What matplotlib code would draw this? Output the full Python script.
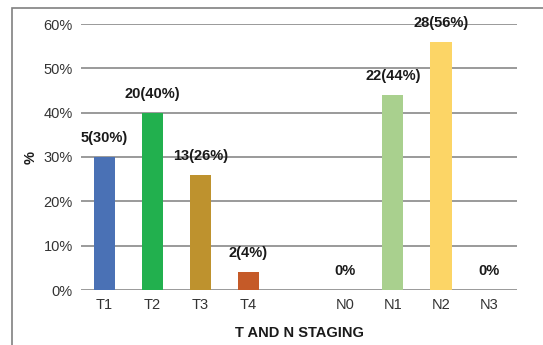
import matplotlib
matplotlib.use("Agg")
import matplotlib.pyplot as plt
from matplotlib.patches import Rectangle

categories = ["T1", "T2", "T3", "T4", "", "N0", "N1", "N2", "N3"]
values = [30, 40, 26, 4, None, 0, 44, 56, 0]
labels = ["5(30%)", "20(40%)", "13(26%)", "2(4%)", None, "0%", "22(44%)", "28(56%)", "0%"]
colors = ["#4a71b5", "#22b04e", "#be922e", "#c55a28", None, "#4a71b5", "#a9d08e", "#fcd566", "#4a71b5"]
yticks = [0, 10, 20, 30, 40, 50, 60]

plt.rcParams['font.family'] = ['Liberation Sans', 'DejaVu Sans']

fig = plt.figure(figsize=(5.43, 3.45), dpi=100)
ax = fig.add_axes([81/543, 1-290/345, (517-81)/543, (290-24)/345])

xs = list(range(len(categories)))
for x, v, c, lab in zip(xs, values, colors, labels):
    if v is None:
        continue
    ax.bar(x, v, width=0.44, color=c, zorder=3)
    ax.annotate(lab, (x, v), xytext=(0, 8.5), textcoords='offset points',
                ha='center', va='bottom', fontsize=10.5, fontweight='bold', color='#1a1a1a')

ax.set_xlim(-0.48, 8.58)
ax.set_ylim(0, 60)
ax.set_yticks(yticks)
ax.set_yticklabels([f"{t}%" for t in yticks], fontsize=10.5, color='#333333')
ax.set_xticks([x for x, c in zip(xs, categories) if c])
ax.set_xticklabels([c for c in categories if c], fontsize=10.5, color='#333333')
ax.tick_params(axis='both', length=0, pad=6)
ax.yaxis.grid(True, color='#9a9a9a', linewidth=1.4, zorder=0)
ax.set_axisbelow(True)
for s in ax.spines.values():
    s.set_visible(False)

ax.set_xlabel("T AND N STAGING", fontsize=10.5, fontweight='bold', labelpad=10, color='#1a1a1a')
ax.set_ylabel("%", fontsize=10.5, fontweight='bold', labelpad=4, color='#1a1a1a')

fig.patches.append(Rectangle((12/543, -0.1), 1.2, 1-8/345+0.1, transform=fig.transFigure,
                             fill=False, edgecolor='#808080', linewidth=1.2))

fig.savefig("out.png", dpi=100)
